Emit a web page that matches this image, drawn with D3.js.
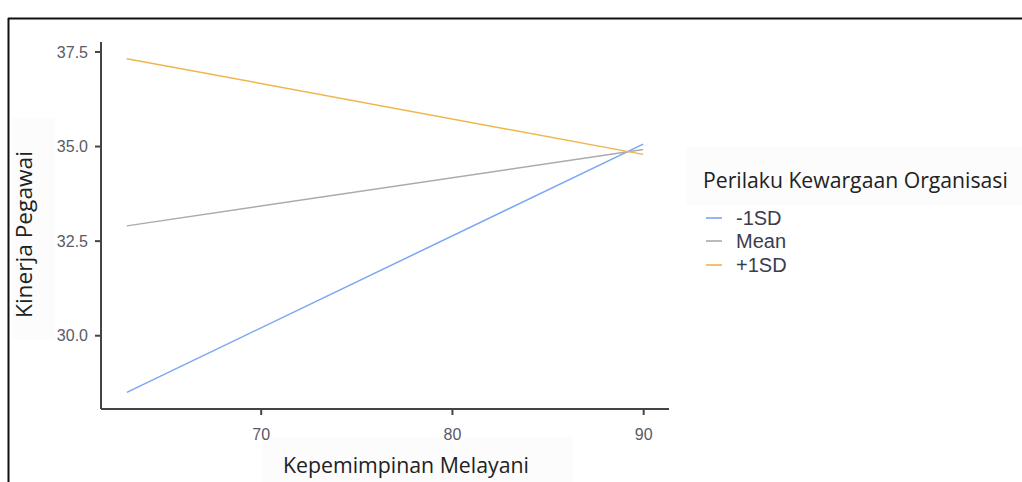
<!DOCTYPE html>
<html><head><meta charset="utf-8">
<script src="https://cdn.jsdelivr.net/npm/d3@7"></script>
<style>html,body{margin:0;padding:0;background:#fff;overflow:hidden}</style>
</head><body>
<svg id="c" width="1022" height="482"></svg>
<script>
const xValues = [63, 90];
const seriesNames = ["-1SD", "Mean", "+1SD"];
const lowSD = [28.49, 35.05];
const meanVals = [32.89, 34.91];
const highSD = [37.31, 34.78];
const xTicks = [70, 80, 90];
const yTicks = [30.0, 32.5, 35.0, 37.5];
const colors = ["#7aa6f3", "#ababab", "#f0b54b"];

const svg = d3.select("#c");
const plot = {left: 101, right: 669, top: 42, bottom: 409};

const x = d3.scaleLinear().domain([61.65, 91.35]).range([plot.left, plot.right]);
const y = d3.scaleLinear().domain([28.05, 37.75]).range([plot.bottom, plot.top]);

// frame border
svg.append("line").attr("x1", 8.5).attr("x2", 8.5).attr("y1", 18).attr("y2", 482).attr("stroke", "#111").attr("stroke-width", 2);
svg.append("line").attr("x1", 8).attr("x2", 1022).attr("y1", 18.5).attr("y2", 18.5).attr("stroke", "#111").attr("stroke-width", 2);

// faint background boxes behind titles
svg.append("rect").attr("x", 12).attr("y", 118).attr("width", 43).attr("height", 222).attr("fill", "#fcfcfc");
svg.append("rect").attr("x", 262).attr("y", 437).attr("width", 311).attr("height", 45).attr("fill", "#fcfcfc");
svg.append("rect").attr("x", 686).attr("y", 147).attr("width", 336).attr("height", 58).attr("fill", "#fcfcfc");

// axes
const xAxis = d3.axisBottom(x).tickValues(xTicks).tickFormat(d3.format("d")).tickSizeOuter(0).tickSize(6);
const yAxis = d3.axisLeft(y).tickValues(yTicks).tickFormat(d3.format(".1f")).tickSizeOuter(0).tickSize(6);

const gx = svg.append("g").attr("transform", `translate(0,${plot.bottom})`).call(xAxis);
const gy = svg.append("g").attr("transform", `translate(${plot.left},0)`).call(yAxis);
[gx, gy].forEach(g => {
  g.select(".domain").attr("stroke", "#444").attr("stroke-width", 2);
  g.selectAll(".tick line").attr("stroke", "#444").attr("stroke-width", 2);
  g.selectAll(".tick text").attr("fill", "#5a5a66").style("font-family", "Liberation Sans, Arial, sans-serif").style("font-size", "16px");
});
gx.select(".domain").attr("d", `M${plot.left},0H${plot.right}`);
gy.select(".domain").attr("d", `M0,${plot.bottom}V${plot.top}`);
gx.selectAll(".tick text").attr("dy", "0").attr("y", 31);
gy.selectAll(".tick text").attr("x", -13).attr("dy", "0.35em");

// lines
const allSeries = [lowSD, meanVals, highSD];
const line = d3.line().x((d, i) => x(xValues[i])).y(d => y(d));
allSeries.forEach((vals, k) => {
  svg.append("path").datum(vals).attr("d", line).attr("fill", "none")
    .attr("stroke", colors[k]).attr("stroke-width", 1.5);
});

function fit(t, w) {
  const len = t.node().getComputedTextLength();
  const fs = parseFloat(t.style("font-size"));
  t.style("font-size", (fs * w / len) + "px");
}

// axis titles
const xt = svg.append("text").attr("x", 283).attr("y", 473).text("Kepemimpinan Melayani")
  .style("font-family", "Open Sans, sans-serif").style("font-size", "20px").attr("fill", "#222");
fit(xt, 246);
const yt = svg.append("text").attr("transform", "translate(32,318) rotate(-90)").text("Kinerja Pegawai")
  .style("font-family", "Open Sans, sans-serif").style("font-size", "20px").attr("fill", "#222");
fit(yt, 167);

// legend
const lt = svg.append("text").attr("x", 703).attr("y", 188).text("Perilaku Kewargaan Organisasi")
  .style("font-family", "Open Sans, sans-serif").style("font-size", "20px").attr("fill", "#222");
fit(lt, 305);

const legY = [218, 241, 265];
seriesNames.forEach((name, k) => {
  svg.append("line").attr("x1", 706).attr("x2", 722).attr("y1", legY[k]).attr("y2", legY[k])
    .attr("stroke", colors[k]).attr("stroke-width", 1.6);
  svg.append("text").attr("x", 736).attr("y", legY[k]).attr("dy", "0.36em").text(name)
    .style("font-family", "Liberation Sans, Arial, sans-serif").style("font-size", "20px").attr("fill", "#3c3c50");
});
</script>
</body></html>
